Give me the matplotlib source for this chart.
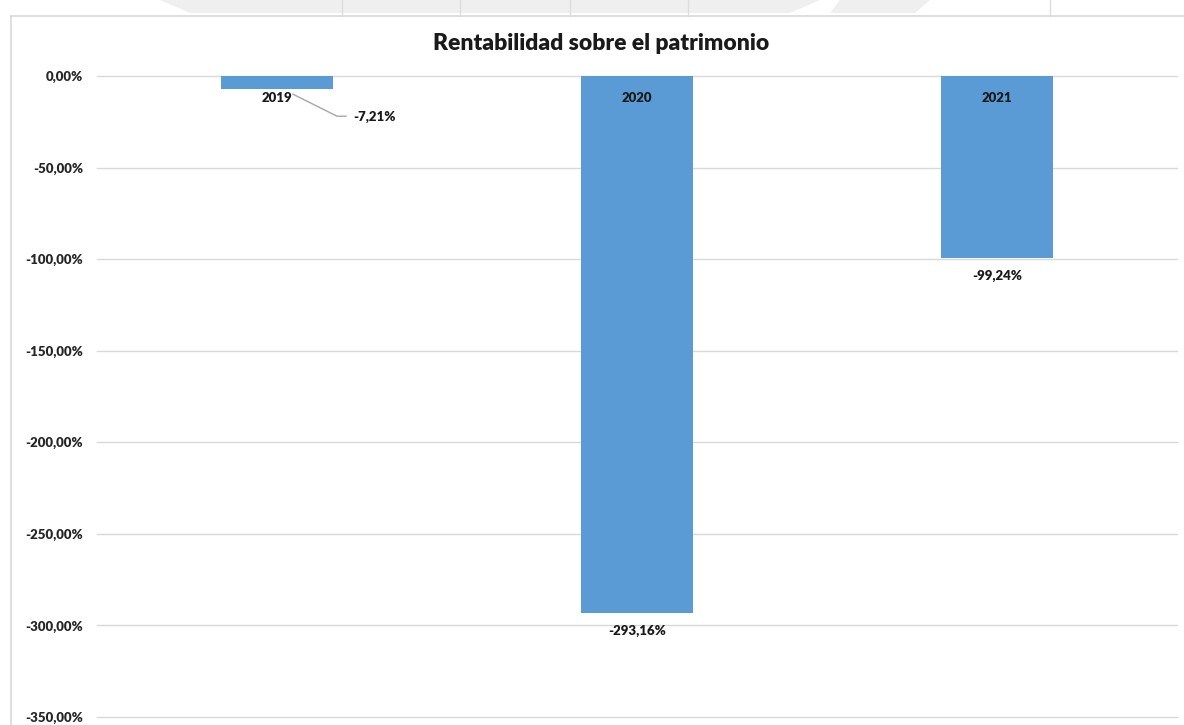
import matplotlib
matplotlib.use("Agg")
import matplotlib.pyplot as plt
from matplotlib.patches import Polygon
from matplotlib.lines import Line2D

years = ["2019", "2020", "2021"]
values = [-7.21, -293.16, -99.24]
value_labels = ["-7,21%", "-293,16%", "-99,24%"]
yticks = [0, -50, -100, -150, -200, -250, -300, -350]
ytick_labels = ["0,00%", "-50,00%", "-100,00%", "-150,00%", "-200,00%", "-250,00%", "-300,00%", "-350,00%"]
title = "Rentabilidad sobre el patrimonio"

FONT = ["Lato", "DejaVu Sans"]
W, H = 1184, 725
fig = plt.figure(figsize=(W / 100, H / 100), dpi=100)
fig.patch.set_facecolor("white")

def fx(px):
    return px / W

def fy(py):
    return 1 - py / H

# background watermark shapes at top
wm_color = "#efefef"
for pts in [
    [(160, 0), (340, 0), (330, 13), (190, 13)],
    [(280, 0), (820, 0), (790, 13), (290, 13)],
    [(840, 0), (930, 0), (915, 13), (830, 13)],
]:
    fig.patches.append(Polygon([(fx(x), fy(y)) for x, y in pts], closed=True,
                               transform=fig.transFigure, facecolor=wm_color,
                               edgecolor="none", zorder=0))
for x in [342, 460, 570, 688, 1050]:
    fig.lines.append(Line2D([fx(x), fx(x)], [fy(0), fy(16)], transform=fig.transFigure,
                            color="#dddddd", lw=1, zorder=1))
# chart frame
fig.lines.append(Line2D([fx(11), fx(1184)], [fy(16), fy(16)], transform=fig.transFigure,
                        color="#d9d9d9", lw=1.2, zorder=1))
fig.lines.append(Line2D([fx(11), fx(11)], [fy(16), fy(725)], transform=fig.transFigure,
                        color="#d9d9d9", lw=1.2, zorder=1))

ax = fig.add_axes([fx(97), fy(717), fx(1177) - fx(97), fy(76) - fy(717)])
ax.set_facecolor("none")
x = list(range(len(years)))
ax.bar(x, values, width=0.31, color="#5B9BD5", zorder=3)
ax.set_xlim(-0.5, 2.5)
ax.set_ylim(-350, 0)
ax.set_yticks(yticks)
ax.set_yticklabels(ytick_labels, fontsize=9.5, fontweight="heavy", family=FONT)
ax.tick_params(axis="y", length=0, pad=10, labelcolor="#262626")
ax.set_xticks([])
ax.grid(axis="y", color="#d9d9d9", lw=1, zorder=0)
for gl in ax.get_ygridlines():
    gl.set_clip_on(False)
for s in ax.spines.values():
    s.set_visible(False)

fig.text(fx(601), fy(44), title, ha="center", va="center", fontsize=16.5,
         fontweight="heavy", color="#1a1a1a", family=FONT)

lab_kw = dict(ha="center", va="center", fontsize=9.5, fontweight="heavy",
              color="#1a1a1a", family=FONT)
for i, (yr, v, lab) in enumerate(zip(years, values, value_labels)):
    ax.annotate(yr, (i, 0), xytext=(0, -22), textcoords="offset pixels", **lab_kw)
    if i == 0:
        ax.annotate(lab, (i, v), xytext=(98, -28), textcoords="offset pixels", **lab_kw)
        # leader line, in pixel offsets from the bar end
        base = ax.transData
        disp0 = base.transform((i, v))
        inv = base.inverted()
        pts_x, pts_y = [], []
        for dx, dy in zip([16, 60, 69], [-5, -27, -27]):
            dxy = inv.transform((disp0[0] + dx, disp0[1] + dy))
            pts_x.append(dxy[0])
            pts_y.append(dxy[1])
        ax.plot(pts_x, pts_y, color="#a6a6a6", lw=1, zorder=4, clip_on=False)
    else:
        ax.annotate(lab, (i, v), xytext=(0, -18), textcoords="offset pixels", **lab_kw)

fig.savefig("out.png", dpi=100)
